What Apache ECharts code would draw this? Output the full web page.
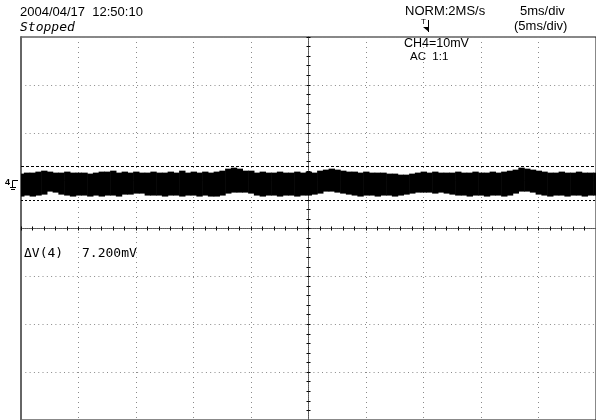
<!DOCTYPE html>
<html><head><meta charset="utf-8">
<script src="https://cdn.jsdelivr.net/npm/echarts/dist/echarts.min.js"></script>
<style>html,body{margin:0;padding:0;background:#fff}#c{width:596px;height:420px}</style>
</head><body><div id="c"></div>
<script>
// time axis in ms (5 ms/div, 10 div), sampled every 0.5 ms
const timeMs = [-25,-24.5,-24,-23.5,-23,-22.5,-22,-21.5,-21,-20.5,-20,-19.5,-19,-18.5,-18,-17.5,-17,-16.5,-16,-15.5,-15,-14.5,-14,-13.5,-13,-12.5,-12,-11.5,-11,-10.5,-10,-9.5,-9,-8.5,-8,-7.5,-7,-6.5,-6,-5.5,-5,-4.5,-4,-3.5,-3,-2.5,-2,-1.5,-1,-0.5,0,0.5,1,1.5,2,2.5,3,3.5,4,4.5,5,5.5,6,6.5,7,7.5,8,8.5,9,9.5,10,10.5,11,11.5,12,12.5,13,13.5,14,14.5,15,15.5,16,16.5,17,17.5,18,18.5,19,19.5,20,20.5,21,21.5,22,22.5,23,23.5,24,24.5,25];
// CH4 noise envelope (screen mV, 10 mV/div)
const upperEnvelope = [11.46,11.67,11.67,11.88,12.08,11.88,11.67,11.67,11.88,11.67,11.67,11.67,11.46,11.67,11.88,11.88,12.08,11.67,11.88,11.67,11.88,11.67,11.67,11.88,
11.67,11.67,11.88,11.67,12.08,11.67,11.88,11.67,11.88,11.67,11.88,12.08,12.5,12.71,12.5,12.08,12.08,11.67,11.88,11.67,11.67,11.88,11.67,11.67,11.88,11.67,
11.88,11.67,12.08,12.29,12.5,12.29,12.08,11.88,11.88,11.67,11.88,11.67,11.67,11.67,11.46,11.46,11.25,11.25,11.46,11.67,11.88,11.67,11.88,11.67,11.67,
11.67,11.88,11.67,11.67,11.88,11.67,11.67,11.88,11.67,11.88,12.08,12.29,12.71,12.5,12.29,12.08,11.88,11.67,11.67,11.88,11.67,11.67,11.88,11.67,11.67,11.67];
const lowerEnvelope = [6.67,6.88,6.67,6.88,7.08,7.71,7.5,7.08,6.88,6.67,6.88,6.88,6.67,6.88,6.67,6.88,6.88,6.67,7.08,7.08,7.29,7.29,6.88,6.88,
6.88,6.67,6.88,6.88,6.67,6.88,6.88,6.67,6.88,6.67,6.67,6.88,7.29,7.5,7.5,7.5,7.29,6.88,6.67,6.88,6.88,6.67,6.88,6.88,6.67,6.88,
6.88,7.08,7.29,7.71,7.71,7.5,7.29,7.08,6.88,6.67,6.88,6.88,6.67,6.88,6.88,6.67,6.88,7.08,7.29,7.5,7.5,7.5,7.29,7.5,7.29,
7.08,6.88,6.88,6.67,6.88,6.88,6.67,6.88,6.88,6.67,6.88,7.29,7.71,7.71,7.5,7.08,6.88,6.67,6.88,6.88,6.67,6.88,6.88,6.67,6.88,6.88];
// ΔV cursors (screen mV)
const cursorLevels = [13.0, 5.8];
const timeRange = [-25, 25, 5];
const voltRange = [-40, 40, 10];
const headerLines = ['2004/04/17  12:50:10', 'Stopped', 'NORM:2MS/s', '5ms/div', '(5ms/div)'];
const channelLines = ['CH4=10mV', 'AC  1:1'];
const cursorTexts = ['\u0394V(4)', '7.200mV'];

const envData = timeMs.map((t, i) => [t, lowerEnvelope[i], upperEnvelope[i]]);
const halfStep = 0.25;

const chart = echarts.init(document.getElementById('c'), null, {renderer: 'canvas'});
const SANS = '"Liberation Sans", Arial, sans-serif';
const MONO = '"DejaVu Sans Mono", monospace';
function centerAxis(pos, isX) {
  return {
    type: 'value', position: pos,
    min: isX ? timeRange[0] : voltRange[0], max: isX ? timeRange[1] : voltRange[1],
    interval: isX ? timeRange[2] : voltRange[2],
    axisLine: {show: true, onZero: true, lineStyle: {color: '#555', width: 1, type: [1, 1]}},
    axisTick: {show: true, length: 2, lineStyle: {color: '#000'}},
    minorTick: {show: true, splitNumber: 5, length: 2, lineStyle: {color: '#000'}},
    axisLabel: {show: false},
    splitLine: {show: false}
  };
}
const x0 = centerAxis('bottom', true);
x0.splitLine = {show: true, lineStyle: {color: '#8a8a8a', width: 1, type: [1, 4]}};
const x1 = centerAxis('top', true);
const y0 = centerAxis('left', false);
y0.splitLine = {show: true, lineStyle: {color: '#8a8a8a', width: 1, type: [1, 3.3]}};
const y1 = centerAxis('right', false);
const y2 = {
  type: 'value', position: 'left', min: voltRange[0], max: voltRange[1], interval: voltRange[2],
  axisLine: {show: true, onZero: false, lineStyle: {color: '#666', width: 2}},
  axisTick: {show: false}, axisLabel: {show: false}, splitLine: {show: false}
};

const option = {
  animation: false,
  backgroundColor: '#fff',
  grid: {left: 21, top: 37, width: 580, height: 383, show: true, borderColor: '#111', borderWidth: 1, backgroundColor: 'transparent'},
  xAxis: [x0, x1],
  yAxis: [y0, y1, y2],
  series: [
    {type: 'custom', name: 'CH4', data: envData, z: 3,
     encode: {x: 0, y: [1, 2]},
     renderItem: function (params, api) {
       const t = api.value(0);
       const p1 = api.coord([Math.max(timeRange[0], t - halfStep), api.value(2)]);
       const p2 = api.coord([Math.min(timeRange[1], t + halfStep), api.value(1)]);
       return {type: 'rect', shape: {x: p1[0], y: p1[1], width: p2[0] - p1[0] + 0.6, height: p2[1] - p1[1]},
               style: {fill: '#000'}};
     }},
    {type: 'line', name: 'cursors', data: [], symbol: 'none',
     markLine: {symbol: 'none', silent: true, label: {show: false},
       data: [
         {yAxis: cursorLevels[0], lineStyle: {color: '#000', width: 1, type: [3, 2]}},
         {yAxis: cursorLevels[1], lineStyle: {color: '#000', width: 1, type: [2, 2]}}
       ]}}
  ],
  graphic: [
    {type: 'text', left: 20, top: 6, style: {text: headerLines[0], font: '13px ' + SANS, fill: '#000'}},
    {type: 'text', left: 20, top: 21, style: {text: headerLines[1], font: 'italic 13px ' + MONO, fill: '#000'}},
    {type: 'text', left: 405, top: 5, style: {text: headerLines[2], font: '13px ' + SANS, fill: '#000'}},
    {type: 'text', left: 520, top: 5, style: {text: headerLines[3], font: '13px ' + SANS, fill: '#000'}},
    {type: 'text', left: 514, top: 20, style: {text: headerLines[4], font: '13px ' + SANS, fill: '#000'}},
    {type: 'text', left: 404, top: 37, style: {text: channelLines[0], font: '12.5px ' + SANS, fill: '#000'}},
    {type: 'text', left: 410, top: 51, style: {text: channelLines[1], font: '11.5px ' + SANS, fill: '#000'}},
    {type: 'text', left: 24, top: 247, style: {text: cursorTexts[0], font: '13px ' + MONO, fill: '#000'}},
    {type: 'text', left: 82, top: 247, style: {text: cursorTexts[1], font: '13px ' + MONO, fill: '#000'}},
    // trigger marker
    {type: 'text', left: 421, top: 18, style: {text: 'T', font: '8px ' + SANS, fill: '#000'}},
    {type: 'line', shape: {x1: 428.5, y1: 20, x2: 428.5, y2: 32}, style: {stroke: '#000', lineWidth: 1}},
    {type: 'polygon', shape: {points: [[423, 27], [429, 27], [429, 32]]}, style: {fill: '#000'}},
    // channel 4 ground marker
    {type: 'text', left: 5, top: 178, style: {text: '4', font: 'bold 9px ' + SANS, fill: '#000'}},
    {type: 'polyline', shape: {points: [[18, 180.5], [12.5, 180.5], [12.5, 187]]}, style: {stroke: '#000', lineWidth: 1, fill: null}},
    {type: 'line', shape: {x1: 10, y1: 187.5, x2: 16, y2: 187.5}, style: {stroke: '#000', lineWidth: 1}},
    {type: 'line', shape: {x1: 11, y1: 189.5, x2: 15, y2: 189.5}, style: {stroke: '#000', lineWidth: 1}}
  ]
};
chart.setOption(option);
</script>
</body></html>
